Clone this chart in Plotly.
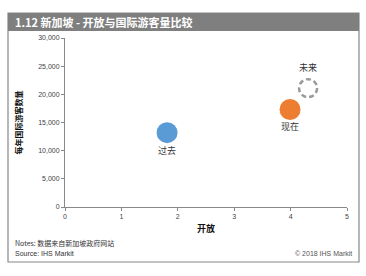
import plotly.graph_objects as go

labels = ["过去", "现在"]
openness = [1.81, 3.99]
visitors = [13200, 17300]
colors = ["#5B9BD5", "#ED7D31"]

future_label = "未来"
future_x = 4.31
future_y = 21100

x_ticks = [0, 1, 2, 3, 4, 5]
y_ticks = [0, 5000, 10000, 15000, 20000, 25000, 30000]

W, H = 366, 276
L, R, T, B = 65, 19, 38, 69
pw, ph = W - L - R, H - T - B


def px(x):
    return (x - L) / pw


def py(y):
    return (H - B - y) / ph


fig = go.Figure()
fig.add_trace(go.Scatter(
    x=openness, y=visitors, mode="markers+text", text=labels,
    textposition="bottom center",
    textfont=dict(size=9, color="#333", family="Noto Sans CJK SC"),
    marker=dict(size=21, color=colors, line=dict(width=0)),
    cliponaxis=False, showlegend=False, hoverinfo="skip"))
fig.add_trace(go.Scatter(
    x=[future_x], y=[future_y], mode="markers+text", text=[future_label],
    textposition="top center",
    textfont=dict(size=9, color="#333", family="Noto Sans CJK SC"),
    marker=dict(size=22, color="rgba(0,0,0,0)", line=dict(width=0)),
    cliponaxis=False, showlegend=False, hoverinfo="skip"))

fig.add_shape(type="circle", xref="x", yref="y", xsizemode="pixel", ysizemode="pixel",
              xanchor=future_x, yanchor=future_y, x0=-9, x1=9, y0=-9, y1=9,
              line=dict(color="#9A9A9A", width=2.5, dash="5px,3px"), fillcolor="rgba(0,0,0,0)")

# outer frame
fig.add_shape(type="rect", xref="paper", yref="paper", x0=px(8), x1=px(359), y0=py(262), y1=py(13),
              line=dict(color="#888888", width=1.2), fillcolor="rgba(0,0,0,0)", layer="below")
# title bar
fig.add_shape(type="rect", xref="paper", yref="paper", x0=px(8), x1=px(359), y0=py(31), y1=py(13),
              line=dict(width=0), fillcolor="#7F7F7F", layer="below")
fig.add_annotation(xref="paper", yref="paper", x=px(13), y=py(22), xanchor="left", yanchor="middle",
                   text="<b>1.12 新加坡 - 开放与国际游客量比较</b>", showarrow=False,
                   font=dict(size=11, color="white", family="Noto Sans CJK SC"))
fig.add_annotation(xref="paper", yref="paper", x=px(13), y=py(243), xanchor="left", yanchor="middle",
                   text="Notes: 数据来自新加坡政府网站", showarrow=False,
                   font=dict(size=7, color="#333", family="Noto Sans CJK SC"))
fig.add_annotation(xref="paper", yref="paper", x=px(13), y=py(254), xanchor="left", yanchor="middle",
                   text="Source: IHS Markit", showarrow=False,
                   font=dict(size=7, color="#333", family="Liberation Sans"))
fig.add_annotation(xref="paper", yref="paper", x=px(354), y=py(254), xanchor="right", yanchor="middle",
                   text="© 2018 IHS Markit", showarrow=False,
                   font=dict(size=7, color="#555", family="Liberation Sans"))

fig.update_layout(
    width=W, height=H, margin=dict(l=L, r=R, t=T, b=B),
    paper_bgcolor="white", plot_bgcolor="white",
    xaxis=dict(range=[0, 5], tickvals=x_ticks, ticktext=[str(v) for v in x_ticks],
               showgrid=False, zeroline=False, showline=True, linecolor="#888", linewidth=1,
               ticks="outside", ticklen=3, tickcolor="#888",
               tickfont=dict(size=7, color="#444", family="Liberation Sans"),
               title=dict(text="<b>开放</b>", standoff=6,
                          font=dict(size=9, color="#111", family="Noto Sans CJK SC"))),
    yaxis=dict(range=[0, 30000], tickvals=y_ticks, ticktext=[f"{v:,}" for v in y_ticks],
               showgrid=False, zeroline=False, showline=True, linecolor="#888", linewidth=1,
               ticks="outside", ticklen=3, tickcolor="#888",
               tickfont=dict(size=7, color="#444", family="Liberation Sans"),
               title=dict(text="<b>每年国际游客数量</b>", standoff=14,
                          font=dict(size=8, color="#111", family="Noto Sans CJK SC"))),
)

fig.write_html("out.html")
